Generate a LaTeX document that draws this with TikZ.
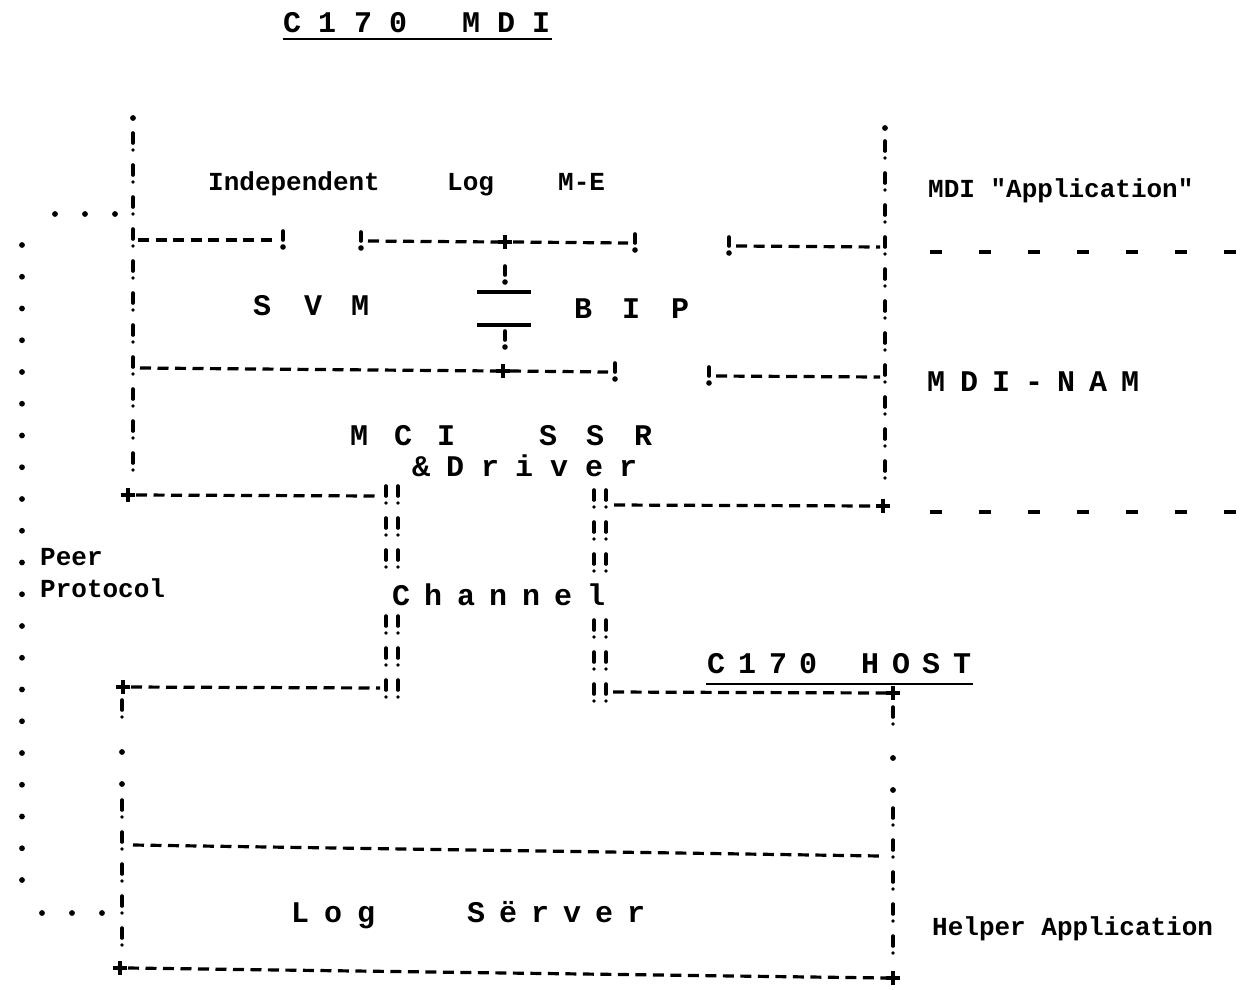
\documentclass[tikz,border=0pt]{standalone}
\usepackage{fontspec}
\newfontfamily\tw{Liberation Mono}
\begin{document}
\begin{tikzpicture}[x=1pt,y=-1pt,
 big/.style={font=\tw\bfseries\fontsize{30}{30}\selectfont, inner sep=0pt, anchor=base},
 small/.style={font=\tw\bfseries\fontsize{26}{26}\selectfont, inner sep=0pt, anchor=base west},
 hd/.style={line width=3.2pt, dash pattern=on 11pt off 6.5pt},
 vb/.style={line width=3.6pt, line cap=round, dash pattern=on 10pt off 7pt on 0pt off 15pt},
 wide/.style={line width=3.4pt, dash pattern=on 12pt off 37pt},
 bar/.style={line width=3.4pt},
 ul/.style={line width=2.8pt},
 bang/.pic={\draw[line width=3.6pt,line cap=round] (0,-9)--(0,0); \fill (0,7) circle (2.8pt);},
 plus/.pic={\draw[line width=3.2pt] (-7,0)--(7,0) (0,-7)--(0,7);},
 dot/.pic={\fill (0,0) circle (2.9pt);}
]
\fill[white] (0,0) rectangle (1242,989);
\useasboundingbox (0,0) rectangle (1242,989);

% ---------- titles ----------
\foreach \c/\x [count=\i] in {C/292,1/327,7/363,0/398,M/471,D/506,I/541}
  \node[big] (ta\i) at (\x,32) {\c};
\coordinate (tau1) at (283,39); \coordinate (tau2) at (552,39);
\draw[ul] (tau1) -- (tau2);

\foreach \c/\x [count=\i] in {C/716,1/747,7/778,0/808,H/870,O/901,S/931,T/962}
  \node[big] (tb\i) at (\x,673) {\c};
\coordinate (tbu1) at (706,684); \coordinate (tbu2) at (973,684);
\draw[ul] (tbu1) -- (tbu2);

% ---------- small labels ----------
\node[small] (ind) at (208,190) {Independent};
\node[small] (lg) at (447,190) {Log};
\node[small] (me) at (558,190) {M-E};
\node[small] (app) at (928,197) {MDI "Application"};
\node[small] (peer) at (40,565) {Peer};
\node[small] (prot) at (40,597) {Protocol};
\node[small] (help) at (932,935) {Helper Application};

% ---------- spaced labels ----------
\foreach \c/\x [count=\i] in {S/262,V/313,M/360}
  \node[big] (svm\i) at (\x,315) {\c};
\foreach \c/\x [count=\i] in {B/583,I/631,P/680}
  \node[big] (bip\i) at (\x,318) {\c};
\foreach \c/\x [count=\i] in {M/936,D/969,I/1001,-/1034,N/1066,A/1098,M/1130}
  \node[big] (nam\i) at (\x,391) {\c};
\foreach \c/\x [count=\i] in {M/359,C/403,I/446,S/548,S/595,R/643}
  \node[big] (mci\i) at (\x,445) {\c};
\foreach \c/\x [count=\i] in {\&/421,D/455,r/490,i/524,v/559,e/594,r/628}
  \node[big] (drv\i) at (\x,476) {\c};
\foreach \c/\x [count=\i] in {C/401,h/433,a/466,n/498,n/531,e/563,l/596}
  \node[big] (chn\i) at (\x,605) {\c};
\foreach \c/\x [count=\i] in {L/300,o/333,g/366,S/476,ë/508,r/540,v/572,e/604,r/636}
  \node[big] (lsv\i) at (\x,922) {\c};
\node[big, font=\tw\fontsize{40}{40}\selectfont] (paren) at (1252,556) {(};

% ---------- dotted paths ----------
\foreach \x in {55,85,115} \pic at (\x,214) {dot};
\foreach \k in {0,...,20} \pic at (22,245+31.75*\k) {dot};
\foreach \x in {42,72,102} \pic at (\x,913) {dot};

% ---------- MDI box verticals ----------
\pic at (133,118) {dot};
\coordinate (mlt) at (133,133); \coordinate (mlb) at (133,470.5);
\draw[vb] (mlt) -- (mlb);
\pic at (885,128) {dot};
\coordinate (mrt) at (885,141); \coordinate (mrb) at (885,478.5);
\draw[vb] (mrt) -- (mrb);

% ---------- row A ----------
\coordinate (a1) at (138,240); \coordinate (a2) at (276,240);
\draw[hd] (a1) -- (a2); \pic at (283,240) {bang};
\pic at (361,241) {bang};
\coordinate (a3) at (368,241); \coordinate (a4) at (498,242);
\coordinate (a5) at (513,242); \coordinate (a6) at (628,243);
\draw[hd] (a3) -- (a4); \pic at (505,242) {plus}; \draw[hd] (a5) -- (a6);
\pic at (635,243) {bang};
\pic at (729,246) {bang};
\coordinate (a7) at (736,246); \coordinate (a8) at (880,247);
\draw[hd] (a7) -- (a8);
\coordinate (aw1) at (930,252); \coordinate (aw2) at (1242,252);
\draw[wide] (aw1) -- (aw2);

% ---------- middle stack ----------
\pic at (505,275) {bang};
\coordinate (b1) at (477,292); \coordinate (b2) at (531,292);
\coordinate (b3) at (477,325); \coordinate (b4) at (531,325);
\draw[bar] (b1) -- (b2); \draw[bar] (b3) -- (b4);
\pic at (505,340) {bang};

% ---------- row B ----------
\coordinate (r1) at (140,368); \coordinate (r2) at (496,371);
\coordinate (r3) at (510,371); \coordinate (r4) at (608,372);
\draw[hd] (r1) -- (r2); \pic at (503,371) {plus}; \draw[hd] (r3) -- (r4);
\pic at (615,372) {bang};
\pic at (709,376) {bang};
\coordinate (r5) at (716,376); \coordinate (r6) at (880,377);
\draw[hd] (r5) -- (r6);

% ---------- row C ----------
\pic at (128,495) {plus};
\coordinate (c1) at (136,495); \coordinate (c2) at (380,496);
\draw[hd] (c1) -- (c2);
\coordinate (c3) at (614,505); \coordinate (c4) at (876,506);
\draw[hd] (c3) -- (c4); \pic at (883,506) {plus};
\coordinate (cw1) at (930,512); \coordinate (cw2) at (1242,512);
\draw[wide] (cw1) -- (cw2);

% ---------- channel ----------
\foreach \x in {386,398} {
  \draw[vb] (\x,486) -- (\x,567.5);
  \draw[vb] (\x,616) -- (\x,697.5);
}
\foreach \x in {594,606} {
  \draw[vb] (\x,490) -- (\x,571.5);
  \draw[vb] (\x,620) -- (\x,701.5);
}

% ---------- row D ----------
\pic at (123,687) {plus};
\coordinate (d1) at (131,687); \coordinate (d2) at (380,688);
\draw[hd] (d1) -- (d2);
\coordinate (d3) at (613,692); \coordinate (d4) at (886,693);
\draw[hd] (d3) -- (d4); \pic at (893,693) {plus};

% ---------- host box verticals ----------
\draw[vb] (122,700) -- (122,717.5);
\pic at (122,752) {dot}; \pic at (122,784) {dot};
\draw[vb] (122,800) -- (122,945.5);
\draw[vb] (893,707) -- (893,724.5);
\pic at (893,758) {dot}; \pic at (893,790) {dot};
\draw[vb] (893,808) -- (893,953.5);

% ---------- row E, F ----------
\coordinate (e1) at (133,845); \coordinate (e2) at (881,856);
\draw[hd] (e1) -- (e2);
\pic at (120,968) {plus};
\coordinate (f1) at (128,968); \coordinate (f2) at (886,978);
\draw[hd] (f1) -- (f2); \pic at (893,978) {plus};
\end{tikzpicture}
\end{document}
